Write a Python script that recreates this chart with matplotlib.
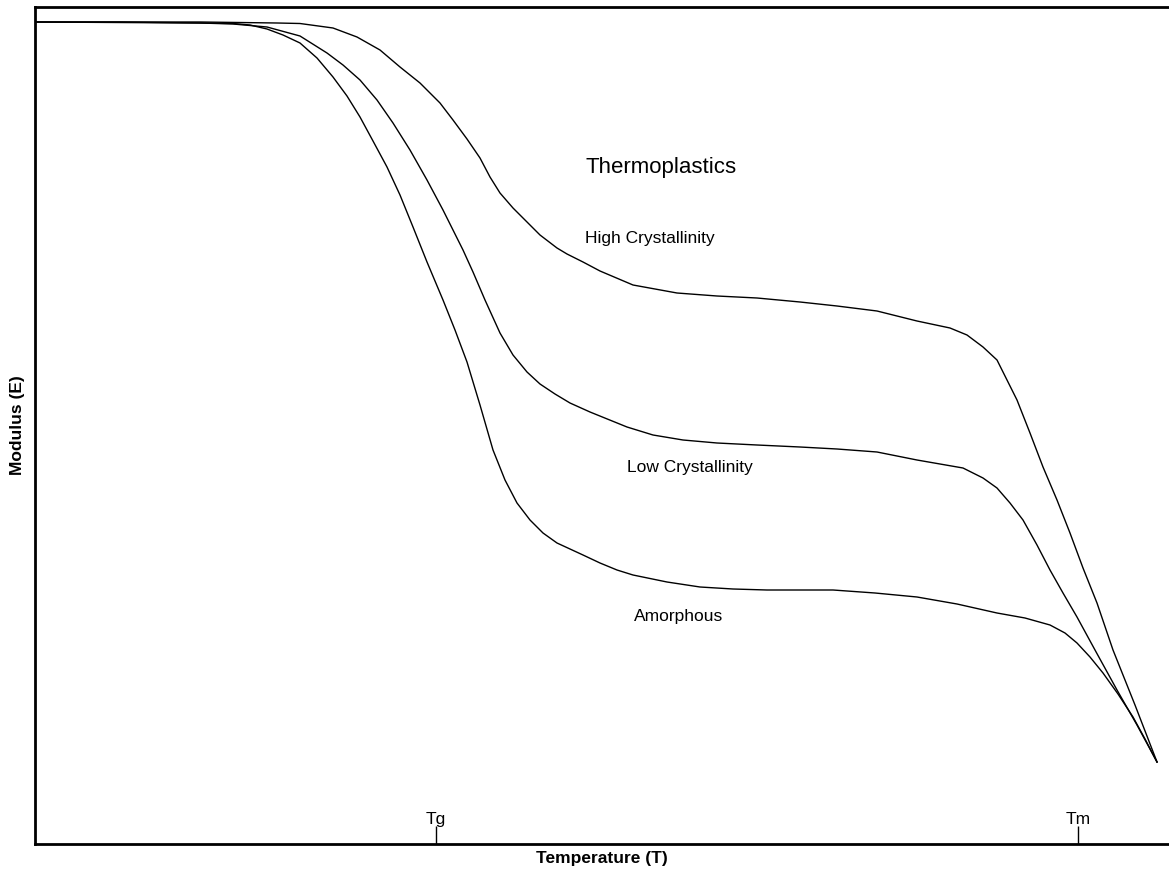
import matplotlib
matplotlib.use("Agg")
import matplotlib.pyplot as plt

plt.rcParams['font.family'] = ['Liberation Sans', 'DejaVu Sans']

# Data (arbitrary units: temperature on x, modulus on y)
amorph_T = [0, 85, 165, 198, 215, 232, 248, 265, 282, 298, 312, 325, 338, 352, 365, 378, 392, 408,
            420, 432, 445, 458, 470, 482, 495, 508, 522, 535, 548, 565, 582, 598, 632, 665, 698, 732,
            765, 798, 840, 882, 922, 962, 990, 1015, 1030, 1042, 1055, 1068, 1083, 1098, 1110, 1122]
amorph_E = [822, 822, 821, 820.5, 819, 815, 809, 801, 786, 767, 748, 727, 703, 677, 649, 617, 582,
            544, 514, 482, 439, 394, 364, 341, 324, 311, 301, 295, 289, 281, 274, 269, 262, 257, 255,
            254, 254, 254, 251, 247, 240, 231, 226, 219, 211, 201, 187, 171, 150, 127, 105, 82]

low_T = [0, 165, 198, 232, 265, 292, 308, 325, 342, 358, 375, 392, 408, 428, 438, 450, 465, 478,
         492, 505, 520, 535, 555, 592, 618, 648, 682, 722, 765, 802, 842, 882, 928, 948, 962, 975, 988,
         1002, 1015, 1028, 1042, 1060, 1082, 1102, 1122]
low_E = [822, 821, 820, 817, 808, 791, 779, 764, 744, 721, 694, 664, 634, 594, 572, 544, 511, 489,
         472, 460, 450, 441, 432, 417, 409, 404, 401, 399, 397, 395, 392, 384, 376, 366, 356, 341, 324,
         299, 274, 251, 227, 194, 154, 119, 82]

high_T = [0, 165, 242, 265, 298, 322, 345, 365, 385, 405, 418, 432, 445, 455, 465, 478, 492, 505,
          522, 532, 548, 565, 598, 642, 682, 722, 765, 802, 842, 882, 915, 932, 948, 962, 972, 982,
          995, 1008, 1022, 1035, 1048, 1062, 1078, 1100, 1122]
high_E = [822, 822, 821, 820.5, 816, 807, 794, 777, 761, 741, 724, 705, 686, 667, 651, 636, 622,
          609, 596, 590, 582, 573, 559, 551, 548, 546, 542, 538, 533, 523, 516, 509, 497, 484, 464,
          444, 411, 377, 344, 311, 276, 241, 194, 139, 82]

tick_T = [401, 1043]
tick_labels = ["Tg", "Tm"]

curve_labels = ["High Crystallinity", "Low Crystallinity", "Amorphous"]
label_T = [550, 592, 599]
label_E = [606, 377, 228]

W, H = 1169, 875
fig = plt.figure(figsize=(W / 100, H / 100), dpi=100)
ax = fig.add_axes([35 / W, 31 / H, 1 - 35 / W, 837 / H])

for T, E in [(amorph_T, amorph_E), (low_T, low_E), (high_T, high_E)]:
    ax.plot(T, E, color='black', lw=1.0, solid_joinstyle='round', antialiased=True)

ax.set_xlim(0, 1134)
ax.set_ylim(0, 837)

for s in ['left', 'top', 'bottom']:
    ax.spines[s].set_linewidth(2.0)
ax.spines['right'].set_visible(False)

ax.set_yticks([])
ax.set_xticks(tick_T)
ax.set_xticklabels([])
ax.tick_params(axis='x', direction='in', length=13, width=1.0, color='black')
for t, lab in zip(tick_T, tick_labels):
    ax.annotate(lab, xy=(t, 0), xycoords=('data', 'axes fraction'), xytext=(0, 12.5),
                textcoords='offset points', ha='center', va='bottom', fontsize=12.5)

ax.text(550, 677, "Thermoplastics", ha='left', va='center', fontsize=16)
for lab, x, y in zip(curve_labels, label_T, label_E):
    ax.text(x, y, lab, ha='left', va='center', fontsize=12.5)

fig.text(602 / W, 1 - 858 / H, "Temperature (T)", ha='center', va='center',
         fontsize=12.5, fontweight='bold')
fig.text(18 / W, 1 - 425 / H, "Modulus (E)", ha='center', va='center', rotation=90,
         fontsize=12.5, fontweight='bold')

fig.savefig("out.png", dpi=100)
